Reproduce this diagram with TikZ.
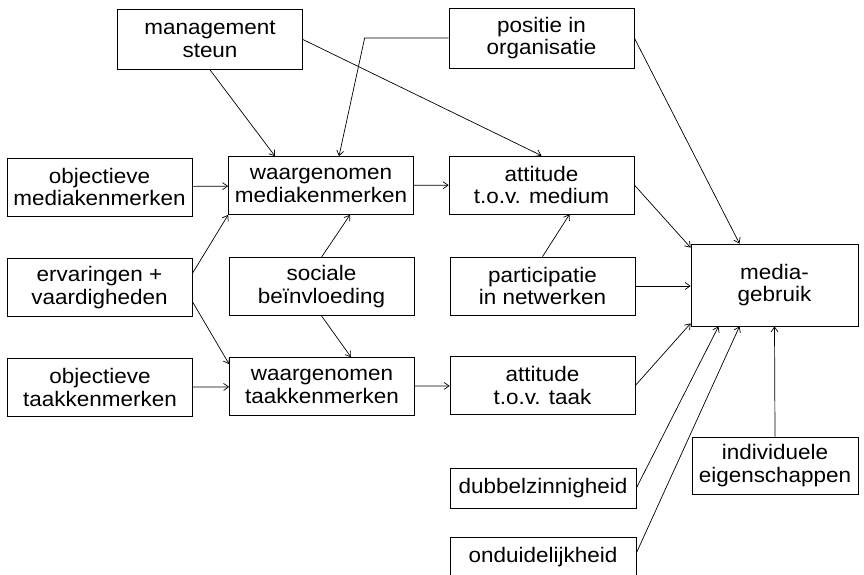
\documentclass[tikz,border=0pt]{standalone}
\usepackage{fontspec}
\setmainfont{Liberation Sans}[FakeStretch=1.07]
\usetikzlibrary{arrows.meta}

\begin{document}
\begin{tikzpicture}[
    x=1pt, y=-1pt,
    box/.style={draw, rectangle, align=center, minimum width=185pt, minimum height=58pt, inner sep=0pt,
        font=\fontsize{21}{22.5}\selectfont},
    arrow/.style={-{Straight Barb[length=5pt,width=7pt]}, line width=0.7pt},
    every node/.append style={line width=0.7pt}
]
    \useasboundingbox (0,0) rectangle (864,575);

    \node[box, minimum height=60pt] (mgmt) at (210, 39.5) {management\\steun};
    \node[box, minimum height=60pt] (pos) at (541.5, 38) {positie in\\organisatie};

    \node[box] (objmedia) at (99.5, 187) {objectieve\\mediakenmerken};
    \node[box] (wgmedia) at (321, 185.5) {waargenomen\\mediakenmerken};
    \node[box] (attmedium) at (541.5, 185) {attitude\\t.o.v. medium};

    \node[box] (erv) at (99.5, 287.5) {ervaringen +\\vaardigheden};
    \node[box] (soc) at (321.5, 286.5) {sociale\\beïnvloeding};
    \node[box] (part) at (542.5, 286) {participatie\\in netwerken};
    \node[box, minimum width=167pt, minimum height=82pt] (gebruik) at (774.5, 285) {media-\\gebruik};

    \node[box] (objtaak) at (100, 387.5) {objectieve\\taakkenmerken};
    \node[box] (wgtaak) at (322, 386.5) {waargenomen\\taakkenmerken};
    \node[box] (atttaak) at (542.5, 385.5) {attitude\\t.o.v. taak};

    \node[box, minimum width=166pt, minimum height=57pt] (indiv) at (775, 465.5) {individuele\\eigenschappen};
    \node[box, minimum width=186pt, minimum height=40pt] (dubbel) at (543, 488) {dubbelzinnigheid};
    \node[box, minimum width=186pt, minimum height=40pt] (ondui) at (543, 557) {onduidelijkheid};

    \draw[arrow] (mgmt.south) -- ([xshift=-46pt]wgmedia.north);
    \draw[arrow] (mgmt.east) -- (attmedium.north);
    \draw[arrow] (pos.west) -- ++(-84,0) -- ([xshift=18pt]wgmedia.north);
    \draw[arrow] (pos.east) -- ([xshift=-35pt]gebruik.north);

    \draw[arrow] (objmedia) -- (wgmedia);
    \draw[arrow] (wgmedia) -- (attmedium);
    \draw[arrow] (attmedium.east) -- ([yshift=-4pt]gebruik.north west);

    \draw[arrow] ([yshift=14pt]erv.east) -- (wgmedia.south west);
    \draw[arrow] ([yshift=-14pt]erv.east) -- ([yshift=-7pt]wgtaak.north west);
    \draw[arrow] (soc.north) -- ([xshift=29pt]wgmedia.south);
    \draw[arrow] (soc.south) -- ([xshift=29pt]wgtaak.north);
    \draw[arrow] (part.north) -- ([xshift=28pt]attmedium.south);
    \draw[arrow] (part.east) -- (part.east -| gebruik.west);

    \draw[arrow] (objtaak) -- (wgtaak);
    \draw[arrow] (wgtaak) -- (atttaak);
    \draw[arrow] (atttaak.east) -- ([yshift=3pt]gebruik.south west);

    \draw[arrow] (dubbel.east) -- ([xshift=-56pt]gebruik.south);
    \draw[arrow] ([yshift=4pt]ondui.east) -- ([xshift=-35pt]gebruik.south);
    \draw[arrow] (indiv.north) -- (gebruik.south);
\end{tikzpicture}
\end{document}
